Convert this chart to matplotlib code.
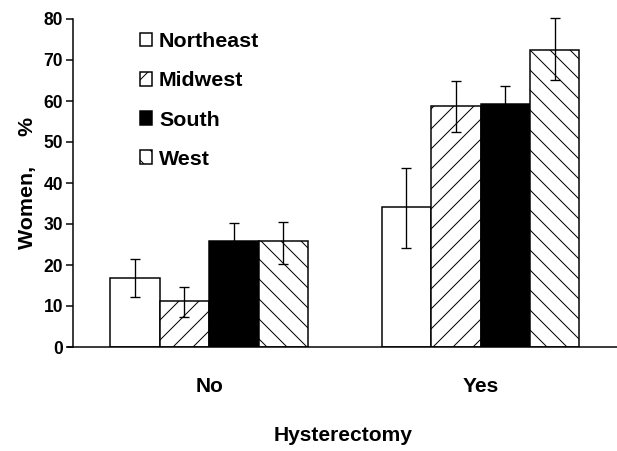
import matplotlib
matplotlib.use("Agg")
import matplotlib.pyplot as plt
import numpy as np
from matplotlib.patches import Patch

plt.rcParams['font.family'] = ['Liberation Sans Narrow', 'Liberation Sans', 'DejaVu Sans']
plt.rcParams['font.weight'] = 'bold'
plt.rcParams['hatch.linewidth'] = 0.6

groups = ["No", "Yes"]
regions = ["Northeast", "Midwest", "South", "West"]
values = {
    "Northeast": [16.8, 34.1],
    "Midwest": [11.2, 58.8],
    "South": [25.9, 59.3],
    "West": [25.9, 72.4],
}
err_low = {
    "Northeast": [12.2, 24.1],
    "Midwest": [7.3, 52.4],
    "South": [21.5, 54.9],
    "West": [20.2, 65.1],
}
err_high = {
    "Northeast": [21.5, 43.6],
    "Midwest": [14.6, 64.9],
    "South": [30.3, 63.7],
    "West": [30.6, 80.2],
}
styles = {
    "Northeast": dict(facecolor="white", hatch=None),
    "Midwest": dict(facecolor="white", hatch="//"),
    "South": dict(facecolor="black", hatch=None),
    "West": dict(facecolor="white", hatch="\\\\"),
}

dpi = 120
fig = plt.figure(figsize=(617 / dpi, 451 / dpi), dpi=dpi)
ax = fig.add_axes([73 / 617, 1 - 347 / 451, 1 - 73 / 617, (347 - 19) / 451])

x = np.arange(len(groups))
width = 0.1823
for i, r in enumerate(regions):
    pos = x + (i - 1.5) * width
    v = np.array(values[r])
    lo = v - np.array(err_low[r])
    hi = np.array(err_high[r]) - v
    ax.bar(pos, v, width, edgecolor="black", linewidth=0.9, label=r, **styles[r])
    eb = ax.errorbar(pos, v, yerr=[lo, hi], fmt="none", ecolor="black",
                     elinewidth=0.8, capsize=3, capthick=0.8)
    for part in eb.lines[1] + eb.lines[2]:
        part.set_clip_on(False)

ax.set_xlim(-0.502, 1.503)
ax.set_ylim(0, 80)
ax.set_yticks(range(0, 81, 10))
ax.set_xticks(x)
ax.set_xticklabels(groups, fontsize=12.5)
ax.tick_params(axis="x", length=0, pad=18)
ax.tick_params(axis="y", direction="out", length=4, width=0.9, pad=2, labelsize=10.5)
for s in ["top", "right"]:
    ax.spines[s].set_visible(False)
ax.spines["left"].set_linewidth(0.9)
ax.spines["bottom"].set_linewidth(0.9)
ax.spines["bottom"].set_bounds(-0.52, 1.503)
ax.spines["bottom"].set_clip_on(False)

fig.text(27 / 617, 1 - 183 / 451, "Women,     %", rotation=90,
         ha="center", va="center", fontsize=12.8)
fig.text(343 / 617, 1 - 441 / 451, "Hysterectomy", ha="center",
         va="baseline", fontsize=12.6)

handles = [Patch(edgecolor="black", linewidth=0.9, **styles[r]) for r in regions]
fig.legend(handles, regions, loc="upper left", bbox_to_anchor=(140 / 617, 1 - 32 / 451),
           frameon=False, fontsize=12.8, handlelength=0.56, handleheight=0.62,
           handletextpad=0.33, labelspacing=0.95, borderpad=0, borderaxespad=0)

fig.savefig("out.png", dpi=dpi)
